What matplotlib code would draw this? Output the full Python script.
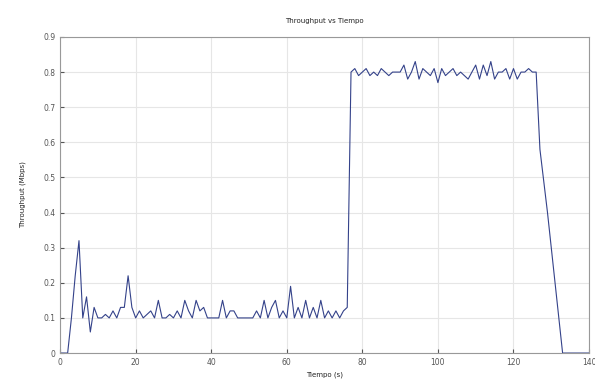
import matplotlib
matplotlib.use("Agg")
import matplotlib.pyplot as plt

# tiempo (s) and throughput (Mbps)
tiempo = list(range(0, 141))
throughput = [
    0, 0, 0, 0.1, 0.22, 0.32, 0.1, 0.16, 0.06, 0.13,
    0.1, 0.1, 0.11, 0.1, 0.12, 0.1, 0.13, 0.13, 0.22, 0.13,
    0.1, 0.12, 0.1, 0.11, 0.12, 0.1, 0.15, 0.1, 0.1, 0.11,
    0.1, 0.12, 0.1, 0.15, 0.12, 0.1, 0.15, 0.12, 0.13, 0.1,
    0.1, 0.1, 0.1, 0.15, 0.1, 0.12, 0.12, 0.1, 0.1, 0.1,
    0.1, 0.1, 0.12, 0.1, 0.15, 0.1, 0.13, 0.15, 0.1, 0.12,
    0.1, 0.19, 0.1, 0.13, 0.1, 0.15, 0.1, 0.13, 0.1, 0.15,
    0.1, 0.12, 0.1, 0.12, 0.1, 0.12, 0.13, 0.8, 0.81, 0.79,
    0.8, 0.81, 0.79, 0.8, 0.79, 0.81, 0.8, 0.79, 0.8, 0.8,
    0.8, 0.82, 0.78, 0.8, 0.83, 0.78, 0.81, 0.8, 0.79, 0.81,
    0.77, 0.81, 0.79, 0.8, 0.81, 0.79, 0.8, 0.79, 0.78, 0.8,
    0.82, 0.78, 0.82, 0.79, 0.83, 0.78, 0.8, 0.8, 0.81, 0.78,
    0.81, 0.78, 0.8, 0.8, 0.81, 0.8, 0.8, 0.58, 0.49, 0.4,
    0.3, 0.2, 0.1, 0, 0, 0, 0, 0, 0, 0,
    0,
]
xticks = [0, 20, 40, 60, 80, 100, 120, 140]
yticks = [0, 0.1, 0.2, 0.3, 0.4, 0.5, 0.6, 0.7, 0.8, 0.9]

fig = plt.figure(figsize=(5.95, 3.85), dpi=100)
ax = fig.add_axes([0.101, 0.083, 0.889, 0.821])

ax.plot(tiempo, throughput, color='#34428a', lw=0.8)

ax.set_xlim(0, 140)
ax.set_ylim(0, 0.9)
ax.set_xticks(xticks)
ax.set_yticks(yticks)
ax.set_yticklabels(['0' if v == 0 else str(v) for v in yticks])
ax.grid(True, color='#e6e6e6', lw=0.8)
ax.tick_params(direction='in', labelsize=5.5, colors='#555555', length=3)
for s in ax.spines.values():
    s.set_color('#999999')

ax.set_title('Throughput vs Tiempo', fontsize=5, pad=10, color='#222222')
ax.set_xlabel('Tiempo (s)', fontsize=5, labelpad=3, color='#222222')
ax.set_ylabel('Throughput (Mbps)', fontsize=5, labelpad=12, color='#222222')

fig.savefig('out.png', dpi=100)
